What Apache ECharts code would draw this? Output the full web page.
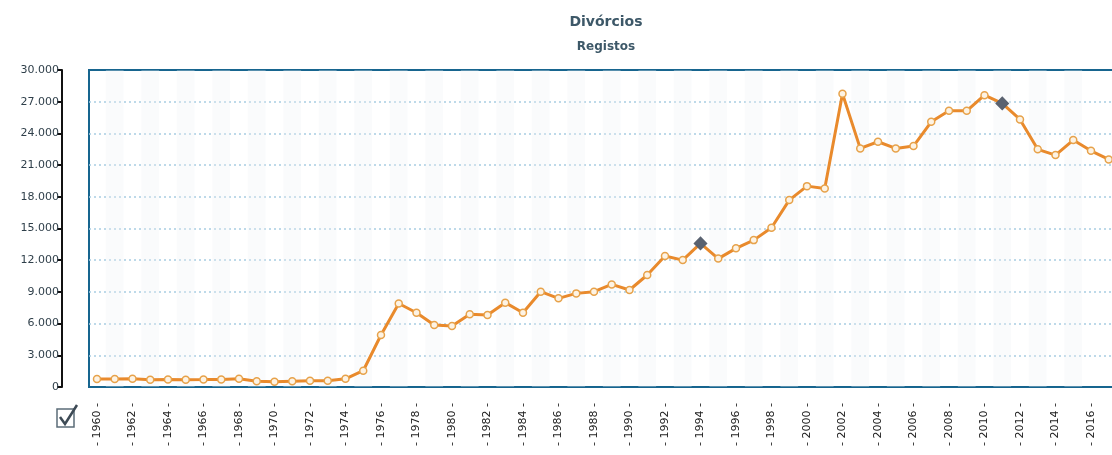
<!DOCTYPE html>
<html>
<head>
<meta charset="utf-8">
<title>Divórcios</title>
<script src="https://cdn.jsdelivr.net/npm/echarts@6/dist/echarts.min.js"></script>
<style>
    html, body { margin: 0; padding: 0; background: #fff; }
    #main { width: 1112px; height: 455px; }
</style>
</head>
<body>
<div id="main"></div>
<script>
// anos e número de divórcios registados
var years = [1960, 1961, 1962, 1963, 1964, 1965, 1966, 1967, 1968, 1969,
             1970, 1971, 1972, 1973, 1974, 1975, 1976, 1977, 1978, 1979,
             1980, 1981, 1982, 1983, 1984, 1985, 1986, 1987, 1988, 1989,
             1990, 1991, 1992, 1993, 1994, 1995, 1996, 1997, 1998, 1999,
             2000, 2001, 2002, 2003, 2004, 2005, 2006, 2007, 2008, 2009,
             2010, 2011, 2012, 2013, 2014, 2015, 2016, 2017];
var divorces = [760, 750, 780, 690, 700, 690, 700, 720, 780, 550,
                500, 550, 600, 600, 770, 1540, 4920, 7900, 7030, 5870,
                5770, 6880, 6810, 7980, 7030, 9020, 8390, 8860, 9020, 9710,
                9180, 10600, 12390, 12010, 13590, 12150, 13120, 13900, 15070, 17690,
                19010, 18790, 27750, 22580, 23210, 22580, 22800, 25100, 26140, 26140,
                27620, 26840, 25320, 22490, 21950, 23370, 22350, 21540];
// anos destacados (marcador losango)
var highlighted = [1994, 2011];
// etiquetas do eixo x, de dois em dois anos
var labelYears = [1960, 1962, 1964, 1966, 1968, 1970, 1972, 1974, 1976, 1978,
                  1980, 1982, 1984, 1986, 1988, 1990, 1992, 1994, 1996, 1998,
                  2000, 2002, 2004, 2006, 2008, 2010, 2012, 2014, 2016];
// marcas do eixo y
var yMin = 0, yMax = 30000, yStep = 3000;

//formatar números com ponto como separador de milhares
function fmt(v) {
    return String(v).replace(/\B(?=(\d{3})+(?!\d))/g, '.');
}

var seriesData = [];
for (var i = 0; i < years.length; i++) {
    var item = { value: [years[i], divorces[i]] };
    if (highlighted.indexOf(years[i]) >= 0) {
        item.symbol = 'diamond';
        item.symbolSize = 12;
        item.itemStyle = { color: '#5a6270', borderColor: '#5a6270' };
    }
    seriesData.push(item);
}

//limites das faixas verticais (meio ano antes de cada ano)
var stripeEdges = years.map(function (y) { return y - 0.5; });

var myChart = echarts.init(document.getElementById('main'));
myChart.setOption({
    animation: false,
    textStyle: { fontFamily: 'DejaVu Sans' },
    title: [
        {
            text: 'Divórcios',
            left: 601, top: 10, textAlign: 'center',
            textStyle: { fontSize: 14, fontWeight: 'bold', color: '#3d5868' }
        },
        {
            text: 'Registos',
            left: 601, top: 36, textAlign: 'center',
            textStyle: { fontSize: 12, fontWeight: 'bold', color: '#3d5868' }
        }
    ],
    grid: {
        left: 89, top: 70, right: -12, bottom: 68,
        outerBoundsMode: 'none',
        containLabel: false,
        show: true,
        borderColor: '#17658f',
        borderWidth: 2,
        backgroundColor: 'transparent'
    },
    xAxis: {
        type: 'value',
        min: 1959.55,
        max: 2017.86,
        axisLine: { show: false },
        axisTick: { show: false, customValues: stripeEdges },
        splitLine: { show: false },
        splitArea: {
            show: true,
            areaStyle: { color: ['rgba(238,242,246,0.3)', 'rgba(255,255,255,0)'] }
        },
        axisLabel: {
            customValues: labelYears,
            rotate: 90,
            margin: 16,
            fontSize: 11,
            color: '#222',
            formatter: function (v) { return '- ' + v + ' -'; }
        }
    },
    yAxis: {
        type: 'value',
        min: yMin,
        max: yMax,
        interval: yStep,
        offset: 27,
        axisLine: { show: true, lineStyle: { color: '#111', width: 2 } },
        axisTick: { show: true, length: 5, lineStyle: { color: '#111', width: 2 } },
        axisLabel: {
            margin: 3,
            fontSize: 11,
            color: '#2f3f4a',
            formatter: fmt
        },
        splitLine: {
            show: true,
            showMinLine: false,
            showMaxLine: false,
            lineStyle: { color: '#a8cde2', type: [2, 3], width: 1.5 }
        }
    },
    graphic: [
        {
            type: 'rect',
            shape: { x: 57, y: 409, width: 17, height: 18 },
            style: { fill: '#fff', stroke: '#5b6c78', lineWidth: 1.5 }
        },
        {
            type: 'polyline',
            shape: { points: [[60, 417], [65, 424], [77, 405]] },
            style: { fill: null, stroke: '#3d4a55', lineWidth: 2.5 }
        }
    ],
    series: [
        {
            name: 'Divórcios',
            type: 'line',
            data: seriesData,
            symbol: 'circle',
            symbolSize: 7,
            lineStyle: { color: '#e98a2c', width: 3 },
            itemStyle: { color: '#fdf3e4', borderColor: '#e7a24a', borderWidth: 1.5 }
        }
    ]
});
</script>
</body>
</html>
